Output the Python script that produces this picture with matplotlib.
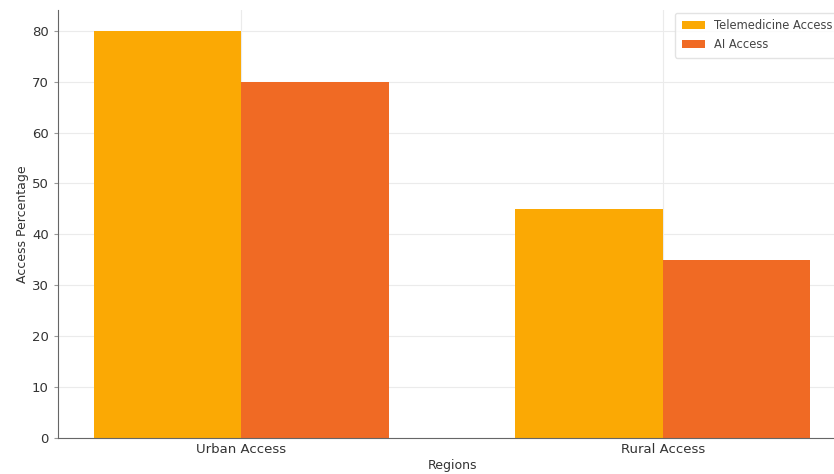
import matplotlib
matplotlib.use("Agg")
import matplotlib.pyplot as plt
import numpy as np

regions = ["Urban Access", "Rural Access"]
telemedicine = [80, 45]
ai_access = [70, 35]

fig = plt.figure(figsize=(8.34, 4.74), dpi=100)
ax = fig.add_axes([0.0695, 0.076, 0.945, 0.902])

x = np.arange(len(regions))
w = 0.35
ax.bar(x - w/2, telemedicine, w, color="#FBA904", label="Telemedicine Access", zorder=2)
ax.bar(x + w/2, ai_access, w, color="#F06A24", label="AI Access", zorder=2)

ax.set_xticks(x)
ax.set_xticklabels(regions, fontsize=9.5, color="#333333")
ax.tick_params(axis="y", labelsize=9.5, colors="#333333", length=3, color="#999999")
ax.tick_params(axis="x", length=0)
ax.set_xlabel("Regions", fontsize=9, color="#333333", labelpad=2)
ax.set_ylabel("Access Percentage", fontsize=9, color="#333333", labelpad=2)
ax.grid(True, color="#EBEBEB", linewidth=0.8, zorder=0)
for s in ["top", "right"]:
    ax.spines[s].set_visible(False)
for s in ["left", "bottom"]:
    ax.spines[s].set_color("#666666")
ax.set_ylim(0, 84)

leg = ax.legend(loc="upper left", fontsize=8.3, frameon=True, edgecolor="#DDDDDD",
                bbox_to_anchor=(0.783, 0.995), borderaxespad=0.0,
                labelspacing=0.45, borderpad=0.6)
for t in leg.get_texts():
    t.set_color("#444444")

fig.savefig("out.png", dpi=100)
